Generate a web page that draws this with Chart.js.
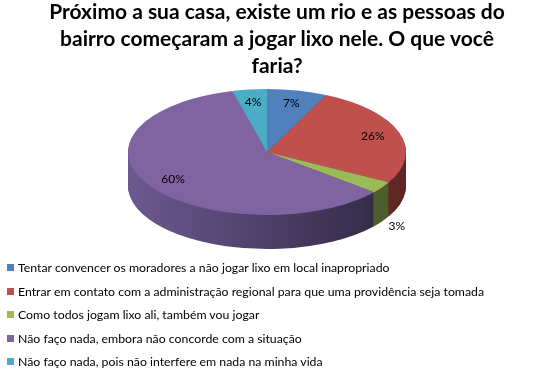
<!DOCTYPE html>
<html>
<head>
<meta charset="utf-8">
<script src="https://cdn.jsdelivr.net/npm/chart.js@4.4.1/dist/chart.umd.min.js"></script>
<style>
  body { margin: 0; background: #fff; }
  #wrap { position: relative; width: 533px; height: 370px; overflow: hidden; font-family: Lato, "Open Sans", sans-serif; }
  #chart { position: absolute; left: 0; top: 0; }
  #title { position: absolute; left: 0; top: -3px; width: 554px; text-align: center; font-weight: bold; font-size: 21px; line-height: 27px; color: #000; }
  #legend { position: absolute; left: 7px; top: 256px; font-size: 12.3px; color: #000; }
  .item { height: 23.5px; display: flex; align-items: center; white-space: nowrap; }
  .box { width: 7px; height: 7px; margin-right: 4px; flex: none; }
</style>
</head>
<body>
<div id="wrap">
  <canvas id="chart" width="533" height="370"></canvas>
  <div id="title">Próximo a sua casa, existe um rio e as pessoas do<br>bairro começaram a jogar lixo nele. O que você<br>faria?</div>
  <div id="legend"></div>
</div>
<script>
const labels = [
  'Tentar convencer os moradores a não jogar lixo em local inapropriado',
  'Entrar em contato com a administração regional para que uma providência seja tomada',
  'Como todos jogam lixo ali, também vou jogar',
  'Não faço nada, embora não concorde com a situação',
  'Não faço nada, pois não interfere em nada na minha vida'
];
const values = [7, 26, 3, 60, 4];

const colors = ['#4f81bd', '#c0504d', '#9bbb59', '#8064a2', '#4bacc6'];
const sideLight = ['#3f6797', '#8e3b39', '#6a823b', '#6c5990', '#3a8aa0'];
const sideDark = ['#2a4466', '#5e2624', '#4a5a28', '#2e2640', '#275d6c'];

const SQUASH = 63 / 139;
const DEPTH = 34;

// legend
const legendEl = document.getElementById('legend');
labels.forEach((l, i) => {
  const row = document.createElement('div');
  row.className = 'item';
  row.innerHTML = '<span class="box" style="background:' + colors[i] + '"></span><span>' + l + '</span>';
  legendEl.appendChild(row);
});

function squash(ctx, c, dy) {
  ctx.translate(c.x, c.y + dy);
  ctx.scale(1, SQUASH);
  ctx.translate(-c.x, -c.y);
}

const pie3d = {
  id: 'pie3d',
  beforeDatasetsDraw(chart) {
    const ctx = chart.ctx;
    const arcs = chart.getDatasetMeta(0).data;
    const c = arcs[0];
    for (let d = DEPTH; d >= 1; d--) {
      ctx.save();
      squash(ctx, c, d);
      arcs.forEach((arc, i) => {
        const g = ctx.createLinearGradient(c.x - c.outerRadius, 0, c.x + c.outerRadius, 0);
        g.addColorStop(0, sideLight[i]);
        g.addColorStop(1, sideDark[i]);
        const saved = arc.options;
        arc.options = Object.assign({}, saved, { backgroundColor: g, borderWidth: 0 });
        arc.draw(ctx);
        arc.options = saved;
      });
      ctx.restore();
    }
    ctx.save();
    squash(ctx, c, 0);
  },
  afterDatasetsDraw(chart) {
    const ctx = chart.ctx;
    ctx.restore();
    const arcs = chart.getDatasetMeta(0).data;
    ctx.save();
    ctx.font = '12px Lato, "Open Sans", sans-serif';
    ctx.fillStyle = '#000';
    ctx.textAlign = 'center';
    ctx.textBaseline = 'middle';
    arcs.forEach((arc, i) => {
      const mid = (arc.startAngle + arc.endAngle) / 2;
      const out = values[i] <= 3;
      const r = arc.outerRadius * (out ? 1.13 : 0.8);
      const x = arc.x + Math.cos(mid) * r;
      const y = arc.y + Math.sin(mid) * r * SQUASH + (out ? DEPTH : 0);
      ctx.fillText(values[i] + '%', x, y);
    });
    ctx.restore();
  }
};

new Chart(document.getElementById('chart'), {
  type: 'pie',
  data: {
    labels: labels,
    datasets: [{
      data: values,
      backgroundColor: colors,
      borderWidth: 0,
      clip: false
    }]
  },
  options: {
    responsive: false,
    animation: false,
    layout: { padding: { left: 128, right: 127, top: 13, bottom: 79 } },
    plugins: {
      legend: { display: false },
      title: { display: false },
      tooltip: { enabled: false }
    }
  },
  plugins: [pie3d]
});
</script>
</body>
</html>
